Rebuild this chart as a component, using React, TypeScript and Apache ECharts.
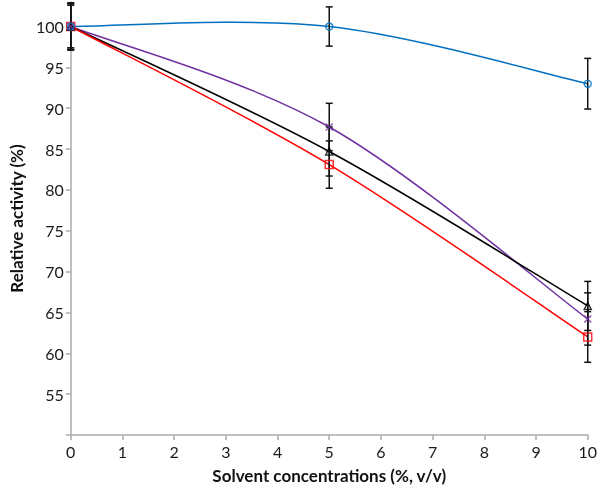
import React, { useEffect, useRef } from "react";
import * as echarts from "echarts";

const X_VALUES = [0, 5, 10];
const BLUE = [100, 100, 93.0];
const BLUE_ERR = [2.6, 2.4, 3.1];
const PURPLE = [100, 87.7, 64.2];
const PURPLE_ERR = [2.8, 2.9, 3.2];
const BLACK = [100, 84.7, 65.8];
const BLACK_ERR = [2.8, 3.0, 3.0];
const RED = [100, 83.1, 62.0];
const RED_ERR = [2.9, 2.9, 3.1];
const X_TICKS = [0, 1, 2, 3, 4, 5, 6, 7, 8, 9, 10];
const Y_LABELS = [55, 60, 65, 70, 75, 80, 85, 90, 95, 100];
const Y_TICKS = [50, 55, 60, 65, 70, 75, 80, 85, 90, 95, 100];

const FONT = "Lato";
const AXIS_GREY = "#ababab";

function curveSeries(ys: number[], color: string, z: number) {
  return {
    type: "custom",
    coordinateSystem: "cartesian2d",
    z,
    silent: true,
    data: [[X_VALUES[0], ys[0]]],
    renderItem: (_params: any, api: any) => {
      const pts = X_VALUES.map((x, i) => api.coord([x, ys[i]]));
      const n = pts.length;
      let d = `M${pts[0][0]},${pts[0][1]}`;
      for (let i = 0; i < n - 1; i++) {
        const p0 = pts[Math.max(i - 1, 0)];
        const p1 = pts[i];
        const p2 = pts[i + 1];
        const p3 = pts[Math.min(i + 2, n - 1)];
        const c1 = [p1[0] + (p2[0] - p0[0]) / 6, p1[1] + (p2[1] - p0[1]) / 6];
        const c2 = [p2[0] - (p3[0] - p1[0]) / 6, p2[1] - (p3[1] - p1[1]) / 6];
        d += ` C${c1[0]},${c1[1]} ${c2[0]},${c2[1]} ${p2[0]},${p2[1]}`;
      }
      return {
        type: "path",
        shape: { pathData: d },
        style: { stroke: color, fill: "none", lineWidth: 1.5 },
      };
    },
  };
}

function errSeries(ys: number[], errs: number[], z: number) {
  return {
    type: "custom",
    coordinateSystem: "cartesian2d",
    z,
    silent: true,
    data: X_VALUES.map((x, i) => [x, ys[i] - errs[i], ys[i] + errs[i]]),
    encode: { x: 0, y: [1, 2] },
    renderItem: (_params: any, api: any) => {
      const lo = api.coord([api.value(0), api.value(1)]);
      const hi = api.coord([api.value(0), api.value(2)]);
      const w = 3.5;
      const st = { stroke: "#111", lineWidth: 1.5 };
      return {
        type: "group",
        children: [
          { type: "line", shape: { x1: lo[0], y1: lo[1], x2: hi[0], y2: hi[1] }, style: st },
          { type: "line", shape: { x1: lo[0] - w, y1: lo[1], x2: lo[0] + w, y2: lo[1] }, style: st },
          { type: "line", shape: { x1: hi[0] - w, y1: hi[1], x2: hi[0] + w, y2: hi[1] }, style: st },
        ],
      };
    },
  };
}

function markerSeries(ys: number[], color: string, symbol: string, size: number, z: number) {
  return {
    type: "scatter",
    z,
    silent: true,
    symbol,
    symbolSize: size,
    data: X_VALUES.map((x, i) => [x, ys[i]]),
    itemStyle: { color: "rgba(255,255,255,0)", borderColor: color, borderWidth: 1.5 },
  };
}

export default function App() {
  const ref = useRef<HTMLDivElement>(null);
  useEffect(() => {
    if (!ref.current) return;
    const chart = echarts.init(ref.current, null, { renderer: "svg" });
    chart.setOption({
      animation: false,
      grid: { left: 58, right: 10, top: 2, bottom: 50, containLabel: false },
      xAxis: {
        type: "value",
        min: 0,
        max: 10,
        interval: 1,
        name: "Solvent concentrations (%, v/v)",
        nameLocation: "middle",
        nameGap: 32,
        nameTextStyle: { fontFamily: FONT, fontWeight: "bold", fontSize: 17, color: "#111" },
        axisLine: { lineStyle: { color: AXIS_GREY, width: 1.5 } },
        axisTick: { show: true, length: 5, lineStyle: { color: AXIS_GREY, width: 1.5 }, customValues: X_TICKS },
        axisLabel: { fontFamily: FONT, fontSize: 16, color: "#1a1a1a", margin: 8, customValues: X_TICKS },
        splitLine: { show: false },
      },
      yAxis: {
        type: "value",
        min: 50,
        max: 103,
        interval: 5,
        name: "Relative activity (%)",
        nameLocation: "middle",
        nameGap: 42,
        nameTextStyle: { fontFamily: FONT, fontWeight: "bold", fontSize: 17, color: "#111" },
        axisLine: { show: true, lineStyle: { color: AXIS_GREY, width: 1.5 } },
        axisTick: { show: true, length: 5, lineStyle: { color: AXIS_GREY, width: 1.5 }, customValues: Y_TICKS },
        axisLabel: { fontFamily: FONT, fontSize: 16, color: "#1a1a1a", margin: 7, customValues: Y_LABELS },
        splitLine: { show: false },
      },
      series: [
        curveSeries(BLUE, "#0070C0", 2),
        curveSeries(PURPLE, "#7030A0", 2),
        curveSeries(BLACK, "#000000", 2),
        curveSeries(RED, "#FF0000", 2),
        errSeries(BLUE, BLUE_ERR, 3),
        errSeries(PURPLE, PURPLE_ERR, 3),
        errSeries(BLACK, BLACK_ERR, 3),
        errSeries(RED, RED_ERR, 3),
        markerSeries(RED, "#FF0000", "rect", 8, 4),
        markerSeries(BLACK, "#000000", "triangle", 7, 4),
        markerSeries(PURPLE, "#7030A0", "path://M0,0L10,10M10,0L0,10", 7, 4),
        markerSeries(BLUE, "#0070C0", "circle", 7, 4),
      ],
    });
    return () => chart.dispose();
  }, []);
  return (
    <div
      ref={ref}
      style={{ position: "fixed", left: 0, top: 0, width: 600, height: 489 }}
    />
  );
}
